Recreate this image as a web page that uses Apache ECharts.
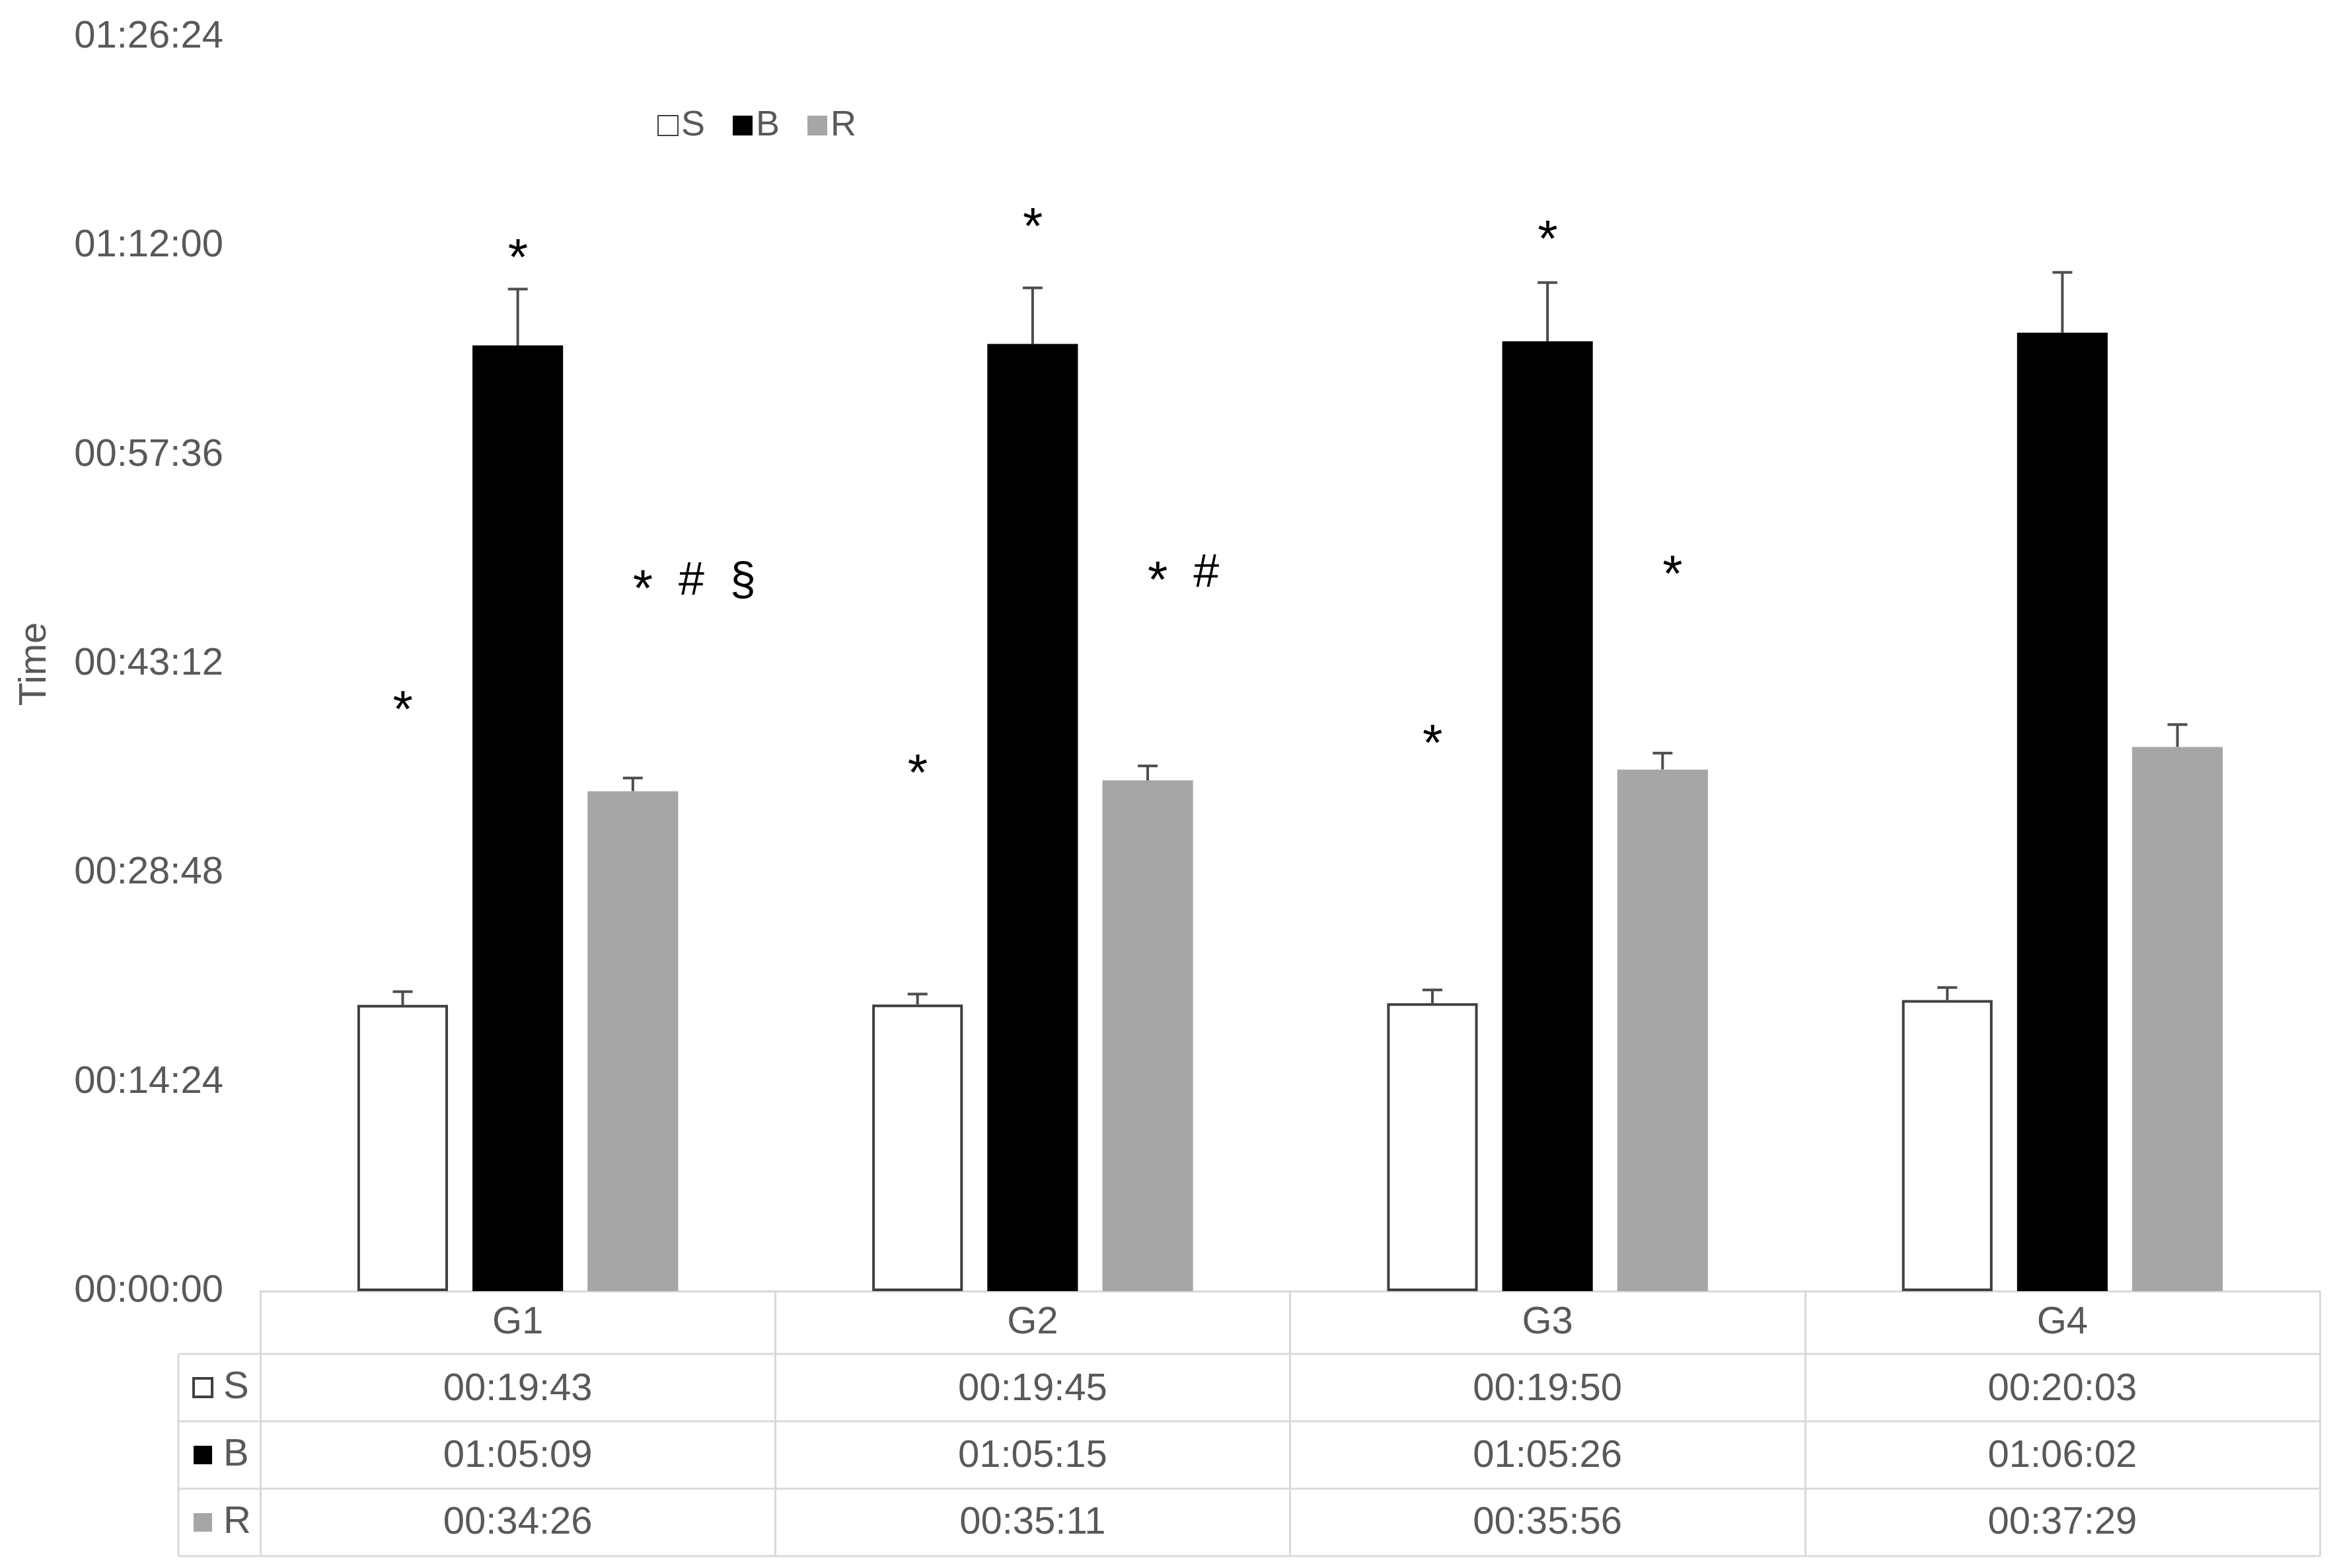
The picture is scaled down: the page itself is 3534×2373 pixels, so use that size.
<!DOCTYPE html>
<html>
<head>
<meta charset="utf-8">
<script src="https://cdn.jsdelivr.net/npm/echarts@6/dist/echarts.min.js"></script>
<style>
  html, body { margin: 0; padding: 0; background: #fff; }
  #chart { width: 3534px; height: 2373px; }
</style>
</head>
<body>
<div id="chart"></div>
<script>
// groups and series
const categories = ['G1', 'G2', 'G3', 'G4'];
const seriesNames = ['S', 'B', 'R'];

// mean times in seconds
const sValues = [1183, 1185, 1190, 1203];   // 00:19:43 ...
const bValues = [3909, 3915, 3926, 3962];   // 01:05:09 ...
const rValues = [2066, 2111, 2156, 2249];   // 00:34:26 ...

// error bar (upper) in seconds
const sErrors = [55, 43, 55, 52];
const bErrors = [233, 232, 243, 249];
const rErrors = [55, 60, 68, 93];

// significance marks: group index, series index, text, height (seconds)
const markCat = [0, 0, 0, 1, 1, 1, 2, 2, 2];
const markSeries = [0, 1, 2, 0, 1, 2, 0, 1, 2];
const markText = ['*', '*', '*  #  §', '*', '*', '*  #', '*', '*', '*'];
const markAt = [2442, 4312, 2944, 2181, 4440, 2979, 2304, 4388, 3002];

// y axis: 0 .. 01:26:24, step 00:14:24
const yMax = 5184;
const yStep = 864;

const FONT = "'Liberation Sans', Arial, sans-serif";
const TXT = '#595959';
const GRIDLINE = '#d9d9d9';
const barColors = ['#ffffff', '#000000', '#a6a6a6'];

// layout
const gridLeft = 394, gridRight = 23, gridTop = 56, gridBottom = 419;
const W = 3534, H = 2373;
const axisY = H - gridBottom;
const tableLeft = 270;
const headerH = 95, rowH = 102;
const BAR_W = 0.176, BAR_GAP = 0.27;

function fmt(sec) {
  const h = Math.floor(sec / 3600);
  const m = Math.floor((sec % 3600) / 60);
  const s = Math.round(sec % 60);
  const p = n => String(n).padStart(2, '0');
  return p(h) + ':' + p(m) + ':' + p(s);
}

const allValues = [sValues, bValues, rValues];
const allErrors = [sErrors, bErrors, rErrors];

const errData = [];
allValues.forEach((vals, si) => {
  vals.forEach((v, ci) => errData.push([ci, si, v, allErrors[si][ci]]));
});
const markData = markCat.map((c, i) => [c, markSeries[i], markAt[i], i]);

function barCenter(api, ci, si) {
  const band = api.size([1, 0])[0];
  const w = band * BAR_W;
  return api.coord([ci, 0])[0] + (si - 1) * (w + w * BAR_GAP);
}

// stars on the middle line, other symbols lifted a little
function richMark(t) {
  return t.replace(/[*#§]/g, ch => ch === '*' ? '{s|*}' : '{o|' + ch + '}');
}

const chart = echarts.init(document.getElementById('chart'));

// table lines and row keys
const graphics = [];
const right = W - gridRight;
for (let i = 0; i < 3; i++) {
  const y = axisY + headerH + i * rowH;
  graphics.push({
    type: 'line', silent: true,
    shape: { x1: tableLeft, y1: y, x2: right, y2: y },
    style: { stroke: GRIDLINE, lineWidth: 3 }
  });
  const cy = y + rowH / 2;
  graphics.push({
    type: 'rect', silent: true,
    shape: { x: 293, y: cy - 14, width: 28, height: 28 },
    style: { fill: barColors[i], stroke: i === 0 ? '#404040' : null, lineWidth: 4 }
  });
  graphics.push({
    type: 'text', silent: true,
    style: { x: 338, y: cy, text: seriesNames[i], fill: TXT, font: '58px ' + FONT, textVerticalAlign: 'middle' }
  });
}
const tableBottom = axisY + headerH + 3 * rowH;
graphics.push({
  type: 'line', silent: true,
  shape: { x1: tableLeft, y1: tableBottom, x2: right, y2: tableBottom },
  style: { stroke: GRIDLINE, lineWidth: 3 }
});
graphics.push({
  type: 'line', silent: true,
  shape: { x1: tableLeft, y1: axisY + headerH, x2: tableLeft, y2: tableBottom },
  style: { stroke: GRIDLINE, lineWidth: 3 }
});

chart.setOption({
  animation: false,
  backgroundColor: '#fff',
  textStyle: { fontFamily: FONT },
  grid: { left: gridLeft, right: gridRight, top: gridTop, bottom: gridBottom, outerBoundsMode: 'none' },
  legend: {
    data: seriesNames,
    left: 990,
    top: 158,
    icon: 'rect',
    itemWidth: 30,
    itemHeight: 30,
    itemGap: 42,
    textStyle: { color: TXT, fontSize: 54, fontFamily: FONT }
  },
  xAxis: {
    type: 'category',
    data: categories,
    axisLine: { show: true, lineStyle: { color: GRIDLINE, width: 3 } },
    axisTick: { show: true, length: tableBottom - axisY, lineStyle: { color: GRIDLINE, width: 3 } },
    axisLabel: {
      interval: 0,
      margin: -3,
      color: TXT,
      fontSize: 58,
      lineHeight: 101,
      fontFamily: FONT,
      formatter: (v, i) => [v, fmt(sValues[i]), fmt(bValues[i]), fmt(rValues[i])].join('\n')
    },
    splitLine: { show: false }
  },
  yAxis: {
    type: 'value',
    min: 0,
    max: yMax,
    interval: yStep,
    name: 'Time',
    nameLocation: 'middle',
    nameGap: 312,
    nameTextStyle: { color: TXT, fontSize: 58, fontFamily: FONT },
    axisLine: { show: false },
    axisTick: { show: false },
    splitLine: { show: false },
    axisLabel: { color: TXT, fontSize: 58, margin: 56, fontFamily: FONT, formatter: v => fmt(v) }
  },
  graphic: graphics,
  series: [
    {
      name: 'S', type: 'bar', data: sValues, barWidth: (BAR_W * 100) + '%', barGap: (BAR_GAP * 100) + '%',
      itemStyle: { color: barColors[0], borderColor: '#404040', borderWidth: 4 }, silent: true
    },
    {
      name: 'B', type: 'bar', data: bValues, barWidth: (BAR_W * 100) + '%', barGap: (BAR_GAP * 100) + '%',
      itemStyle: { color: barColors[1] }, silent: true
    },
    {
      name: 'R', type: 'bar', data: rValues, barWidth: (BAR_W * 100) + '%', barGap: (BAR_GAP * 100) + '%',
      itemStyle: { color: barColors[2] }, silent: true
    },
    {
      // error bars
      type: 'custom',
      data: errData,
      encode: { x: 0, y: 2 },
      silent: true,
      clip: false,
      renderItem: (params, api) => {
        const ci = api.value(0), si = api.value(1);
        const v = api.value(2), e = api.value(3);
        const x = barCenter(api, ci, si);
        const y0 = api.coord([ci, v])[1];
        const y1 = api.coord([ci, v + e])[1];
        const st = { stroke: '#4d4d4d', lineWidth: 4 };
        return {
          type: 'group',
          children: [
            { type: 'line', shape: { x1: x, y1: y0, x2: x, y2: y1 }, style: st },
            { type: 'line', shape: { x1: x - 15, y1: y1, x2: x + 15, y2: y1 }, style: st }
          ]
        };
      }
    },
    {
      // significance marks
      type: 'custom',
      data: markData,
      encode: { x: 0, y: 2 },
      silent: true,
      clip: false,
      renderItem: (params, api) => {
        const ci = api.value(0), si = api.value(1);
        const idx = api.value(3);
        const x = barCenter(api, ci, si) - 15 + (si === 2 ? 15 : 0);
        const y = api.coord([ci, api.value(2)])[1] + 19;
        return {
          type: 'text',
          style: {
            x: x, y: y, text: richMark(markText[idx]), fill: '#000',
            fontSize: 70, fontFamily: FONT, align: 'left', verticalAlign: 'middle',
            rich: {
              s: { fontSize: 78, fontFamily: FONT, fill: '#000' },
              o: { fontSize: 70, fontFamily: FONT, fill: '#000', padding: [0, 0, 28, 0] }
            }
          }
        };
      }
    }
  ]
});
</script>
</body>
</html>
